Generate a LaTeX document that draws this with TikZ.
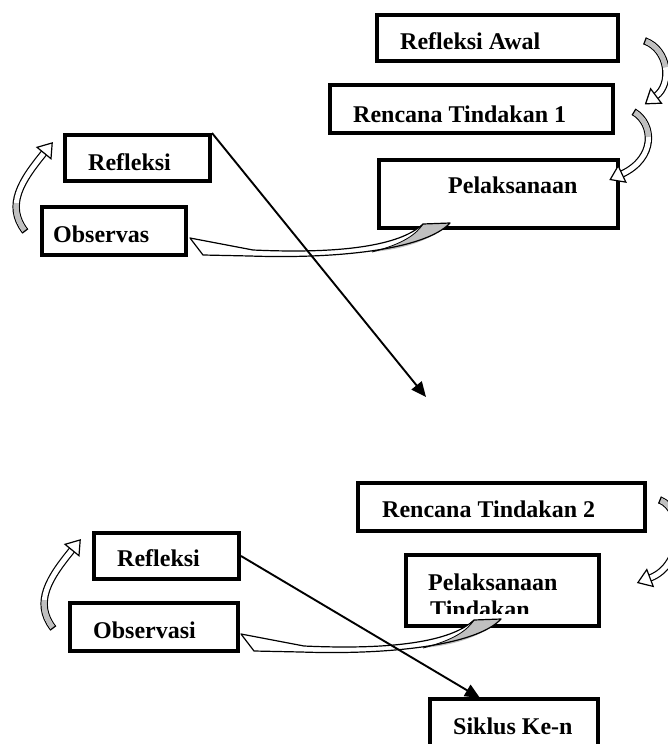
\documentclass[tikz,border=0pt]{standalone}
\usepackage{fontspec}
\setmainfont{Liberation Serif}
\usetikzlibrary{arrows.meta,calc}
\definecolor{fgray}{RGB}{192,192,192}
\tikzset{
  box/.style={draw=black, line width=4pt, fill=white, rectangle, inner sep=0pt},
  lbl/.style={anchor=base west, inner sep=0pt, font=\fontsize{24}{27}\selectfont\bfseries},
  conn/.style={draw=black, line width=1.9pt, -{Triangle[length=15pt,width=13pt]}},
  band/.style={draw=black, line width=1.2pt, double=white, double distance=5pt},
  headstyle/.style={draw=black, fill=white, line width=1.2pt, line join=miter},
  pics/longarr/.style={code={
    \fill[white] (190,238) -- (253,250) .. controls (340,254) and (400,246) .. (423,224)
      -- (450,223) .. controls (425,250) and (335,259) .. (250,256) -- (203,255) -- cycle;
    \fill[fgray] (423,224) -- (450,223) .. controls (432,240) and (405,249) .. (372,252)
      .. controls (395,246) and (414,238) .. cycle;
    \draw[line width=0.8pt] (372,252) .. controls (395,246) and (414,238) .. (423,224);
    \draw[line width=1.2pt, line join=round] (190,238) -- (253,250) .. controls (340,254) and (400,246) .. (423,224)
      -- (450,223) .. controls (425,250) and (335,259) .. (250,256) -- (203,255) -- cycle;
  }}
}
% #1 start, #2 control 1, #3 control 2, #4 end, #5 length of the grey face
\newcommand\curvarr[5]{%
  \draw[band] #1 .. controls #2 and #3 .. #4;
  \draw[fgray, line width=5pt, dash pattern=on #5 off 3000pt] #1 .. controls #2 and #3 .. #4;
  \draw[line width=1.2pt] let \p1=#1, \p2=#2, \n1={atan2(\y2-\y1,\x2-\x1)} in
    ($(\p1)+(\n1+90:3.7pt)$) -- ($(\p1)+(\n1-90:3.7pt)$);
  \draw[headstyle] let \p1=#3, \p2=#4, \n1={atan2(\y2-\y1,\x2-\x1)} in
    ($(\p2)+(\n1+90:9pt)$) -- ($(\p2)+(\n1:13pt)$) -- ($(\p2)+(\n1-90:9pt)$) -- cycle;
}
\begin{document}
\begin{tikzpicture}[x=1pt, y=-1pt]
\useasboundingbox (0,0) rectangle (668,744);
\clip (0,0) rectangle (668,744);

% boxes
\node[box, minimum width=241pt, minimum height=46pt] (ra) at (497.5,38) {};
\node[box, minimum width=283pt, minimum height=48pt] (rt1) at (471.5,109) {};
\node[box, minimum width=239pt, minimum height=68pt] (pl) at (498.5,194) {};
\node[box, minimum width=145pt, minimum height=46pt] (rf1) at (137.5,158) {};
\node[box, minimum width=144pt, minimum height=48pt] (ob1) at (114,231) {};
\node[box, minimum width=287pt, minimum height=48pt] (rt2) at (501.5,507) {};
\node[box, minimum width=193pt, minimum height=71pt] (pt) at (502.5,590.5) {};
\node[box, minimum width=145pt, minimum height=46pt] (rf2) at (166.5,556) {};
\node[box, minimum width=168pt, minimum height=48pt] (ob2) at (154,627) {};

% curved block arrows
\pic (la1) at (0,0) {longarr};
\pic (la2) at (51,396) {longarr};
\curvarr{(645,41)}{(669,50)}{(672,84)}{(656,96)}{35pt}
\curvarr{(634,112)}{(654,124)}{(656,158)}{(622,174)}{30pt}
\curvarr{(25,231)}{(5,205)}{(22,180)}{(44,153)}{30pt}
\curvarr{(53,628)}{(33,602)}{(50,577)}{(72,550)}{30pt}
\curvarr{(660,500)}{(685,510)}{(684,565)}{(650,578)}{25pt}

% straight connectors
\coordinate (t1) at (426,397);
\coordinate (t2) at (480,698);
\draw[conn] (rf1.north east) -- (t1);
\draw[conn] (rf2.east) -- (t2);

\node[box, minimum width=168pt, minimum height=55pt] (sk) at (514,726.5) {};

% texts
\node[lbl] (ra-t) at (400,49) {Refleksi Awal};
\node[lbl] (rt1-t) at (353,122) {Rencana Tindakan 1};
\node[lbl] (pl-t) at (448,193.5) {Pelaksanaan};
\node[lbl] (rf1-t) at (88,170) {Refleksi};
\node[lbl] (ob1-t) at (53,242.5) {Observas};
\node[lbl] (rt2-t) at (382,517) {Rencana Tindakan 2};
\node[lbl] (pt-t1) at (428,590) {Pelaksanaan};
\begin{scope}
  \clip (404,553) rectangle (601,613);
  \node[lbl] (pt-t2) at (430,617.5) {Tindakan};
\end{scope}
\node[lbl] (rf2-t) at (117,566) {Refleksi};
\node[lbl] (ob2-t) at (93,638) {Observasi};
\node[lbl] (sk-t) at (453,734) {Siklus Ke-n};
\end{tikzpicture}
\end{document}
